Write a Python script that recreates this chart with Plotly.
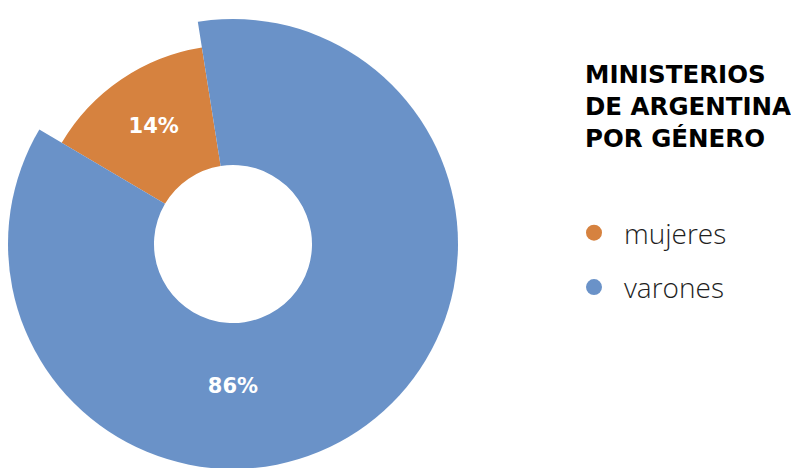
import plotly.graph_objects as go

categories = ["mujeres", "varones"]
percentages = [14, 86]
labels = ["14%", "86%"]
colors = ["#D6823F", "#6A92C8"]
outer_radius = [199, 226]   # visual outer radius of each slice (radial-axis units = px)
hole_radius = 79

# angular layout: 0° at top, counter-clockwise
start_angle = 9
widths = [p * 3.6 for p in percentages]
thetas = []
acc = start_angle
for w in widths:
    thetas.append(acc + w / 2)
    acc += w

fig = go.Figure()
for cat, th, w, r, c in zip(categories, thetas, widths, outer_radius, colors):
    fig.add_trace(go.Barpolar(
        theta=[th], width=[w], r=[r - hole_radius], base=[hole_radius],
        marker=dict(color=c, line=dict(width=0)), name=cat, showlegend=False,
        hoverinfo="skip"))

# slice labels
label_theta = [thetas[0], 180]
label_r = [141, 144]
fig.add_trace(go.Scatterpolar(
    theta=label_theta, r=label_r, mode="text", text=labels,
    textfont=dict(family="DejaVu Sans, sans-serif", size=21, color="white", weight=700),
    showlegend=False, hoverinfo="skip"))

# legend entries (circle markers)
for cat, c in zip(categories, colors):
    fig.add_trace(go.Scatterpolar(
        theta=[None], r=[None], mode="markers", name=cat,
        marker=dict(symbol="circle", size=19, color=c),
        legendgroup=cat, showlegend=True))

fig.add_annotation(
    text="MINISTERIOS<br>DE ARGENTINA<br>POR GÉNERO",
    xref="paper", yref="paper", x=575 / 799, y=1 - 50 / 468,
    xanchor="left", yanchor="top", align="left", showarrow=False,
    font=dict(family="DejaVu Sans, sans-serif", size=24.5, color="black", weight=700))

fig.update_layout(
    width=799, height=468,
    margin=dict(l=0, r=0, t=0, b=0),
    paper_bgcolor="white", plot_bgcolor="white",
    showlegend=True,
    legend=dict(x=556 / 799, y=1 - 200 / 468, xanchor="left", yanchor="top",
                font=dict(family="Open Sans, sans-serif", size=28, color="#1e1e1e", weight=300),
                tracegroupgap=15, itemsizing="trace", itemwidth=50,
                bgcolor="rgba(0,0,0,0)"),
    polar=dict(
        domain=dict(x=[0, 450 / 799], y=[7 / 468, 457 / 468]),
        bgcolor="rgba(0,0,0,0)",
        angularaxis=dict(rotation=90, direction="counterclockwise", visible=False,
                         showgrid=False, showline=False, showticklabels=False),
        radialaxis=dict(range=[0, 225], visible=False, showgrid=False,
                        showline=False, showticklabels=False),
        bargap=0,
    ),
)

fig.write_html("out.html")
